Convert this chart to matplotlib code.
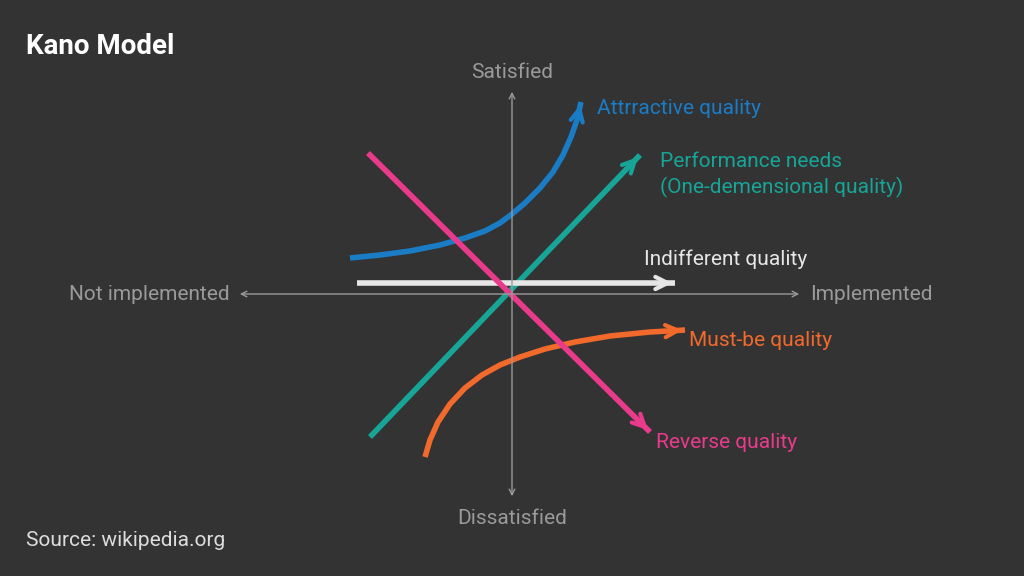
import matplotlib
matplotlib.use("Agg")
import matplotlib.pyplot as plt

BG = "#333333"
AXIS = "#9a9a9a"

# curves in pixel-like units, origin at axis crossing (x right, y up)
attractive_x = [-162, -132, -102, -72, -47, -27, -12, 0, 13, 28, 41, 51, 59, 65, 69]
attractive_y = [36, 39, 43, 49, 56, 63, 71, 80, 91, 106, 122, 139, 157, 174, 192]
performance_x = [-142, 128]
performance_y = [-143, 139]
reverse_x = [-144, 138]
reverse_y = [141, -138]
indifferent_x = [-155, 163]
indifferent_y = [11, 11]
mustbe_x = [-87, -82, -74, -62, -47, -30, -12, 8, 33, 63, 98, 138, 173]
mustbe_y = [-163, -146, -128, -110, -94, -81, -71, -63, -55, -48, -42, -38, -36]

series = [
    (attractive_x, attractive_y, "#1b7cc6", "Attrractive quality", (85, 186)),
    (performance_x, performance_y, "#17a597", "Performance needs\n(One-demensional quality)", (148, 119)),
    (indifferent_x, indifferent_y, "#e6e6e6", "Indifferent quality", (132, 35)),
    (mustbe_x, mustbe_y, "#f2692c", "Must-be quality", (177, -47)),
    (reverse_x, reverse_y, "#ea3a8c", "Reverse quality", (144, -148)),
]

plt.rcParams["font.family"] = ["Roboto", "DejaVu Sans"]
fig = plt.figure(figsize=(10.24, 5.76), dpi=100, facecolor=BG)
ax = fig.add_axes([0, 0, 1, 1], facecolor=BG)
ax.set_xlim(-512, 512)
ax.set_ylim(-282, 294)
ax.axis("off")

# axes with arrows
ax.annotate("", xy=(290, 0), xytext=(-275, 0),
            arrowprops=dict(arrowstyle="<->", color=AXIS, lw=1, mutation_scale=10))
ax.annotate("", xy=(0, 205), xytext=(0, -205),
            arrowprops=dict(arrowstyle="<->", color=AXIS, lw=1, mutation_scale=10))
ax.text(-282, 0, "Not implemented", color=AXIS, fontsize=15, ha="right", va="center")
ax.text(298, 0, "Implemented", color=AXIS, fontsize=15, ha="left", va="center")
ax.text(0, 222, "Satisfied", color=AXIS, fontsize=15, ha="center", va="center")
ax.text(0, -225, "Dissatisfied", color=AXIS, fontsize=15, ha="center", va="center")

for xs, ys, color, label, pos in series:
    ax.plot(xs, ys, color=color, lw=4, solid_capstyle="butt", solid_joinstyle="round")
    if len(xs) > 2:
        start = (xs[-2], ys[-2])
    else:
        start = (xs[-1] - 0.05 * (xs[-1] - xs[0]), ys[-1] - 0.05 * (ys[-1] - ys[0]))
    ax.annotate("", xy=(xs[-1], ys[-1]), xytext=start,
                arrowprops=dict(arrowstyle="->", color=color, lw=3, mutation_scale=22))
    ax.text(pos[0], pos[1], label, color=color, fontsize=15, ha="left", va="center", linespacing=1.3)

fig.text(0.025, 0.92, "Kano Model", color="white", fontsize=20, fontweight="bold", ha="left", va="center")
fig.text(0.025, 0.062, "Source: wikipedia.org", color="#dddddd", fontsize=15, ha="left", va="center")

fig.savefig("out.png", dpi=100, facecolor=BG)
